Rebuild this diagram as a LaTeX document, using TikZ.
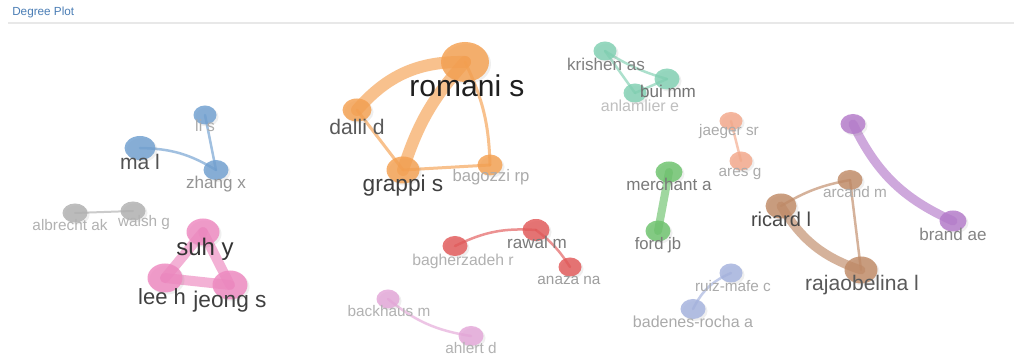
\documentclass[tikz,border=0pt]{standalone}
\usepackage{fontspec}
\setmainfont{Liberation Sans}
\usetikzlibrary{shapes.geometric,backgrounds,shadows}
\definecolor{cblue}{HTML}{6F9FD0}
\definecolor{corange}{HTML}{F5A050}
\definecolor{cteal}{HTML}{80D0B2}
\definecolor{csalmon}{HTML}{F4A88A}
\definecolor{cgreen}{HTML}{6CC26C}
\definecolor{cpurple}{HTML}{B47ACA}
\definecolor{cbrown}{HTML}{C08A66}
\definecolor{cperi}{HTML}{A4B2DE}
\definecolor{cgray}{HTML}{B0B0B0}
\definecolor{cpink}{HTML}{EE88C0}
\definecolor{cred}{HTML}{E25858}
\definecolor{clpink}{HTML}{E4A6D8}
\definecolor{hdrblue}{HTML}{4A7DB5}
\definecolor{hdrline}{HTML}{E8E8E8}
\tikzset{
  bub/.style n args={3}{ellipse, draw=none, fill=#1, fill opacity=0.82, inner sep=0pt,
    minimum width={0.75pt*#2}, minimum height={0.75pt*#3},
    drop shadow={opacity=0.12, shadow xshift=1.5pt, shadow yshift=-1.5pt}},
  lab/.style 2 args={text=#1, font=\fontsize{#2}{#2}\selectfont, inner sep=0pt, anchor=center},
  edge/.style 2 args={draw=#1, draw opacity=0.65, line width={0.75pt*#2}, line cap=round}
}
\begin{document}
\begin{tikzpicture}[x=0.75pt,y=-0.75pt]
\useasboundingbox (0,0) rectangle (1014,359);
\node[lab={hdrblue}{8.8pt}, anchor=west] (title) at (12,12) {Degree Plot};
\coordinate (hl) at (8,23);
\coordinate (hr) at (1014,23);
\draw[draw=hdrline, line width=1.5pt] (hl) -- (hr);

% bubbles
\node[bub={cblue}{23}{19}] (lis) at (205,115) {};
\node[bub={cblue}{31}{24}] (mal) at (140,148) {};
\node[bub={cblue}{25}{20}] (zhang) at (216,170) {};
\node[bub={corange}{48}{40}] (romani) at (465,62) {};
\node[bub={corange}{29}{23}] (dalli) at (357,110) {};
\node[bub={corange}{33}{27}] (grappi) at (403,170) {};
\node[bub={corange}{25}{21}] (bagozzi) at (490,165) {};
\node[bub={cteal}{23}{19}] (krishen) at (605,51) {};
\node[bub={cteal}{25}{21}] (bui) at (667,79) {};
\node[bub={cteal}{23}{19}] (anlam) at (635,93) {};
\node[bub={csalmon}{23}{18}] (jaeger) at (731,121) {};
\node[bub={csalmon}{23}{19}] (ares) at (741,161) {};
\node[bub={cgreen}{27}{21}] (merchant) at (669,172) {};
\node[bub={cgreen}{25}{21}] (ford) at (658,231) {};
\node[bub={cpurple}{25}{20}] (purp) at (853,124) {};
\node[bub={cpurple}{27}{21}] (brand) at (953,221) {};
\node[bub={cbrown}{25}{20}] (arcand) at (850,180) {};
\node[bub={cbrown}{31}{25}] (ricard) at (781,206) {};
\node[bub={cbrown}{33}{27}] (rajao) at (861,270) {};
\node[bub={cperi}{23}{19}] (ruiz) at (731,273) {};
\node[bub={cperi}{25}{20}] (badenes) at (693,309) {};
\node[bub={cgray}{25}{19}] (albrecht) at (75,213) {};
\node[bub={cgray}{25}{19}] (walsh) at (133,211) {};
\node[bub={cpink}{33}{27}] (suh) at (203,232) {};
\node[bub={cpink}{35}{29}] (lee) at (165,278) {};
\node[bub={cpink}{35}{29}] (jeong) at (230,285) {};
\node[bub={cred}{25}{20}] (bagher) at (455,246) {};
\node[bub={cred}{27}{22}] (rawal) at (536,230) {};
\node[bub={cred}{23}{19}] (anaza) at (570,267) {};
\node[bub={clpink}{23}{19}] (backhaus) at (388,299) {};
\node[bub={clpink}{25}{20}] (ahlert) at (471,336) {};

% edges
\begin{pgfonlayer}{background}
\fill[white] (0,0) rectangle (1014,359);
\draw[edge={cblue}{2.5}] (lis.center) -- (zhang.center);
\draw[edge={cblue}{2.5}] (mal.center) to[bend left=15] (zhang.center);
\draw[edge={corange}{12}] (dalli.center) to[bend left=25] (romani.center);
\draw[edge={corange}{12}] (grappi.center) to[bend left=12] (romani.center);
\draw[edge={corange}{3}] (dalli.center) -- (grappi.center);
\draw[edge={corange}{3}] (grappi.center) -- (bagozzi.center);
\draw[edge={corange}{3}] (romani.center) to[bend left=12] (bagozzi.center);
\draw[edge={cteal}{2.5}] (krishen.center) to[bend right=8] (bui.center);
\draw[edge={cteal}{2.5}] (krishen.center) -- (anlam.center);
\draw[edge={cteal}{2.5}] (anlam.center) -- (bui.center);
\draw[edge={csalmon}{2.5}] (jaeger.center) -- (ares.center);
\draw[edge={cgreen}{8}] (merchant.center) -- (ford.center);
\draw[edge={cpurple}{9}] (purp.center) to[bend right=20] (brand.center);
\draw[edge={cbrown}{2.5}] (ricard.center) to[bend left=10] (arcand.center);
\draw[edge={cbrown}{2.5}] (arcand.center) -- (rajao.center);
\draw[edge={cbrown}{9}] (ricard.center) to[bend right=20] (rajao.center);
\draw[edge={cperi}{2.5}] (ruiz.center) to[bend right=20] (badenes.center);
\draw[edge={cgray}{2}] (albrecht.center) -- (walsh.center);
\draw[edge={cpink}{10}] (suh.center) -- (lee.center);
\draw[edge={cpink}{10}] (suh.center) -- (jeong.center);
\draw[edge={cpink}{10}] (lee.center) -- (jeong.center);
\draw[edge={cred}{2.5}] (bagher.center) to[bend left=15] (rawal.center);
\draw[edge={cred}{2.5}] (rawal.center) to[bend left=10] (anaza.center);
\draw[edge={clpink}{2.5}] (backhaus.center) to[bend right=15] (ahlert.center);
\end{pgfonlayer}

% labels
\node[lab={black!33}{12pt}] (llis) at (205,126) {li s};
\node[lab={black!68}{15.8pt}] (lmal) at (140,162) {ma l};
\node[lab={black!42}{12.8pt}] (lzhang) at (216,184) {zhang x};
\node[lab={black!88}{22.5pt}] (lromani) at (467,86) {romani s};
\node[lab={black!65}{15.8pt}] (ldalli) at (357,127) {dalli d};
\node[lab={black!75}{17pt}] (lgrappi) at (403,186) {grappi s};
\node[lab={black!33}{12.5pt}] (lbagozzi) at (491,177) {bagozzi rp};
\node[lab={black!50}{12.8pt}] (lkrishen) at (606,64) {krishen as};
\node[lab={black!55}{12.8pt}] (lbui) at (668,91) {bui mm};
\node[lab={black!25}{12pt}] (lanlam) at (640,106) {anlamlier e};
\node[lab={black!33}{11.5pt}] (ljaeger) at (729,132) {jaeger sr};
\node[lab={black!33}{11.5pt}] (lares) at (740,174) {ares g};
\node[lab={black!52}{12.8pt}] (lmerchant) at (669,184) {merchant a};
\node[lab={black!52}{12.5pt}] (lford) at (658,245) {ford jb};
\node[lab={black!33}{11.5pt}] (larcand) at (855,192) {arcand m};
\node[lab={black!72}{15pt}] (lricard) at (781,219) {ricard l};
\node[lab={black!48}{12.8pt}] (lbrand) at (953,234) {brand ae};
\node[lab={black!65}{15.8pt}] (lrajao) at (862,285) {rajaobelina l};
\node[lab={black!33}{11.5pt}] (lruiz) at (733,286) {ruiz-mafe c};
\node[lab={black!33}{12pt}] (lbadenes) at (693,322) {badenes-rocha a};
\node[lab={black!30}{11.5pt}] (lalbrecht) at (70,225) {albrecht ak};
\node[lab={black!30}{11.5pt}] (lwalsh) at (144,223) {walsh g};
\node[lab={black!80}{18pt}] (lsuh) at (205,249) {suh y};
\node[lab={black!75}{16.5pt}] (llee) at (162,297) {lee h};
\node[lab={black!75}{17pt}] (ljeong) at (230,302) {jeong s};
\node[lab={black!30}{11.8pt}] (lbagher) at (463,261) {bagherzadeh r};
\node[lab={black!52}{12.8pt}] (lrawal) at (537,242) {rawal m};
\node[lab={black!38}{11.5pt}] (lanaza) at (569,280) {anaza na};
\node[lab={black!30}{11.5pt}] (lbackhaus) at (389,311) {backhaus m};
\node[lab={black!30}{11.5pt}] (lahlert) at (471,348) {ahlert d};
\end{tikzpicture}
\end{document}
